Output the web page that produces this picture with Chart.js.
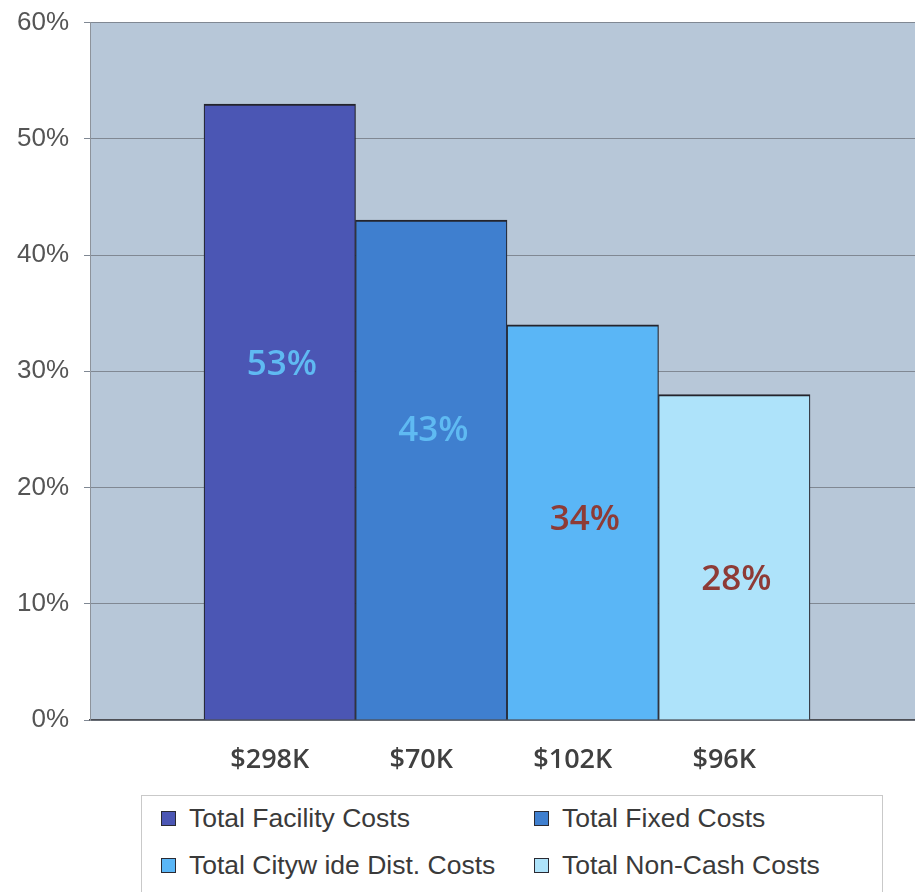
<!DOCTYPE html>
<html>
<head>
<meta charset="utf-8">
<script src="https://cdn.jsdelivr.net/npm/chart.js@4/dist/chart.umd.min.js"></script>
<style>
  html, body { margin: 0; padding: 0; background: #fff; overflow: hidden; }
  #wrap { position: relative; width: 915px; height: 892px; overflow: hidden; }
  #c { position: absolute; left: 0; top: -8px; }
  #legend {
    position: absolute; left: 141px; top: 795px; width: 740px; height: 120px;
    border: 1px solid #c9c9c9; background: #fff;
    font-family: "Liberation Sans", Arial, sans-serif; font-size: 26.5px; color: #3a3a3a;
  }
  .item { position: absolute; display: flex; align-items: center; height: 30px; white-space: pre; }
  .sw { width: 13px; height: 13px; border: 1.5px solid #2a2a33; margin-right: 13px; }
</style>
</head>
<body>
<div id="wrap">
  <canvas id="c" width="915" height="900"></canvas>
  <div id="legend"></div>
</div>
<script>
// Cost categories and their share of the total
const seriesNames = ['Total Facility Costs', 'Total Fixed Costs', 'Total Cityw ide Dist. Costs', 'Total Non-Cash Costs'];
const shares = [53, 43, 34, 28];
const costLabels = ['$298K', '$70K', '$102K', '$96K'];
const yTickValues = [0, 10, 20, 30, 40, 50, 60];

// Styling
const barColors = ['#4b56b4', '#3f7fcf', '#5ab6f6', '#aee3fa'];
const valueLabelColors = ['#5fbaf2', '#5fbaf2', '#8e3b36', '#8e3b36'];
const valueLabelLevels = [30.5, 24.9, 17.2, 12.0]; // vertical placement of the % labels, in axis units

const plotBackground = {
  id: 'plotBackground',
  beforeDraw(chart) {
    const { ctx, chartArea: a } = chart;
    ctx.save();
    ctx.fillStyle = '#b7c7d8';
    ctx.fillRect(a.left, a.top, a.right - a.left, a.bottom - a.top);
    ctx.restore();
  }
};

const valueLabels = {
  id: 'valueLabels',
  afterDatasetsDraw(chart) {
    const { ctx } = chart;
    const yScale = chart.scales.y;
    ctx.save();
    ctx.font = '600 35px "Open Sans", sans-serif';
    ctx.textAlign = 'center';
    ctx.textBaseline = 'middle';
    chart.data.datasets.forEach((ds, i) => {
      const bar = chart.getDatasetMeta(i).data[0];
      ctx.fillStyle = valueLabelColors[i];
      ctx.fillText(shares[i] + '%', bar.x + 2, yScale.getPixelForValue(valueLabelLevels[i]));
    });
    ctx.restore();
  }
};

const datasets = seriesNames.map((name, i) => ({
  label: name,
  data: [{ x: i + 1, y: shares[i] }],
  backgroundColor: barColors[i],
  borderColor: '#24242c',
  borderWidth: { top: 2, left: 1.2, right: 1.2, bottom: 0 },
  borderSkipped: false,
  grouped: false,
  categoryPercentage: 1,
  barPercentage: 1
}));

new Chart(document.getElementById('c'), {
  type: 'bar',
  data: { datasets },
  plugins: [plotBackground, valueLabels],
  options: {
    responsive: false,
    animation: false,
    layout: { padding: { top: 15, left: 0, right: 0, bottom: 0 } },
    plugins: { legend: { display: false }, tooltip: { enabled: false } },
    scales: {
      x: {
        type: 'linear',
        offset: false,
        min: -0.2525,
        max: 5.193,
        afterBuildTicks(scale) { scale.ticks = costLabels.map((_, i) => ({ value: i + 1 })); },
        afterFit(scale) { scale.height = 172; },
        grid: { display: false, offset: false },
        border: { display: true, color: '#4d4f55', width: 1.5 },
        ticks: {
          callback: (v, idx) => costLabels[idx],
          font: { family: '"Open Sans", sans-serif', size: 27, weight: '600' },
          color: '#404040',
          padding: 16,
          labelOffset: -10,
          maxRotation: 0,
          autoSkip: false
        }
      },
      y: {
        min: 0,
        max: 60,
        afterBuildTicks(scale) { scale.ticks = yTickValues.map(v => ({ value: v })); },
        afterFit(scale) { scale.width = 90; },
        grid: { color: '#808893', lineWidth: 1, tickLength: 6, drawTicks: true },
        border: { display: true, color: '#8d939b', width: 1 },
        ticks: {
          callback: v => v + '%',
          font: { family: '"Liberation Sans", Arial, sans-serif', size: 26 },
          color: '#555',
          padding: 15
        }
      }
    }
  }
});

// Legend box: two columns, two rows
const legend = document.getElementById('legend');
const slots = [[19, 7], [392, 7], [19, 54], [392, 54]];
seriesNames.forEach((name, i) => {
  const item = document.createElement('div');
  item.className = 'item';
  item.style.left = slots[i][0] + 'px';
  item.style.top = slots[i][1] + 'px';
  const sw = document.createElement('span');
  sw.className = 'sw';
  sw.style.background = barColors[i];
  const tx = document.createElement('span');
  tx.textContent = name;
  item.appendChild(sw);
  item.appendChild(tx);
  legend.appendChild(item);
});
</script>
</body>
</html>
